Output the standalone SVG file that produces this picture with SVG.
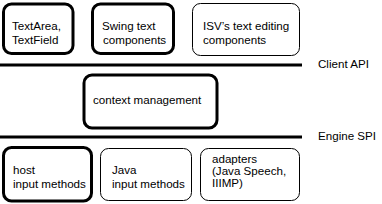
<svg xmlns="http://www.w3.org/2000/svg" width="382" height="204" viewBox="0 0 382 204">
<style>
text{font-family:"Liberation Sans",Arial,sans-serif;font-size:11.6px;fill:#000}
.thick{fill:#fff;stroke:#000;stroke-width:3}
.thin{fill:#fff;stroke:#000;stroke-width:1}
.bar{stroke:#000;stroke-width:3}
</style>
<rect width="382" height="204" fill="#fff"/>
<g id="connectors">
<line class="bar" x1="0" y1="65" x2="302" y2="65"/>
<line class="bar" x1="0" y1="137" x2="302" y2="137"/>
</g>
<g id="client-api-label"><text x="318" y="68">Client API</text></g>
<g id="engine-spi-label"><text x="318" y="140">Engine SPI</text></g>
<g id="textarea">
<rect class="thick" x="3.5" y="4" width="69.5" height="49.5" rx="8"/>
<text x="12" y="30">TextArea,</text><text x="12" y="44">TextField</text>
</g>
<g id="swing">
<rect class="thick" x="92.5" y="4" width="81" height="49.5" rx="8"/>
<text x="102" y="30">Swing text</text><text x="103" y="44">components</text>
</g>
<g id="isv">
<rect class="thin" x="192.5" y="3.5" width="107" height="52" rx="8"/>
<text x="203" y="30">ISV’s text editing</text><text x="203" y="44">components</text>
</g>
<g id="context">
<rect class="thick" x="84" y="75" width="133" height="53" rx="8"/>
<text x="93" y="104">context management</text>
</g>
<g id="host">
<rect class="thick" x="3.5" y="147.5" width="88" height="53.5" rx="8"/>
<text x="13" y="174">host</text><text x="13" y="188">input methods</text>
</g>
<g id="java">
<rect class="thin" x="100.5" y="148.5" width="91" height="52" rx="8"/>
<text x="112" y="174">Java</text><text x="112" y="188">input methods</text>
</g>
<g id="adapters">
<rect class="thin" x="200.5" y="148.5" width="99" height="52" rx="8"/>
<text x="212" y="163">adapters</text><text x="212" y="175">(Java Speech,</text><text x="212" y="187">IIIMP)</text>
</g>
</svg>
